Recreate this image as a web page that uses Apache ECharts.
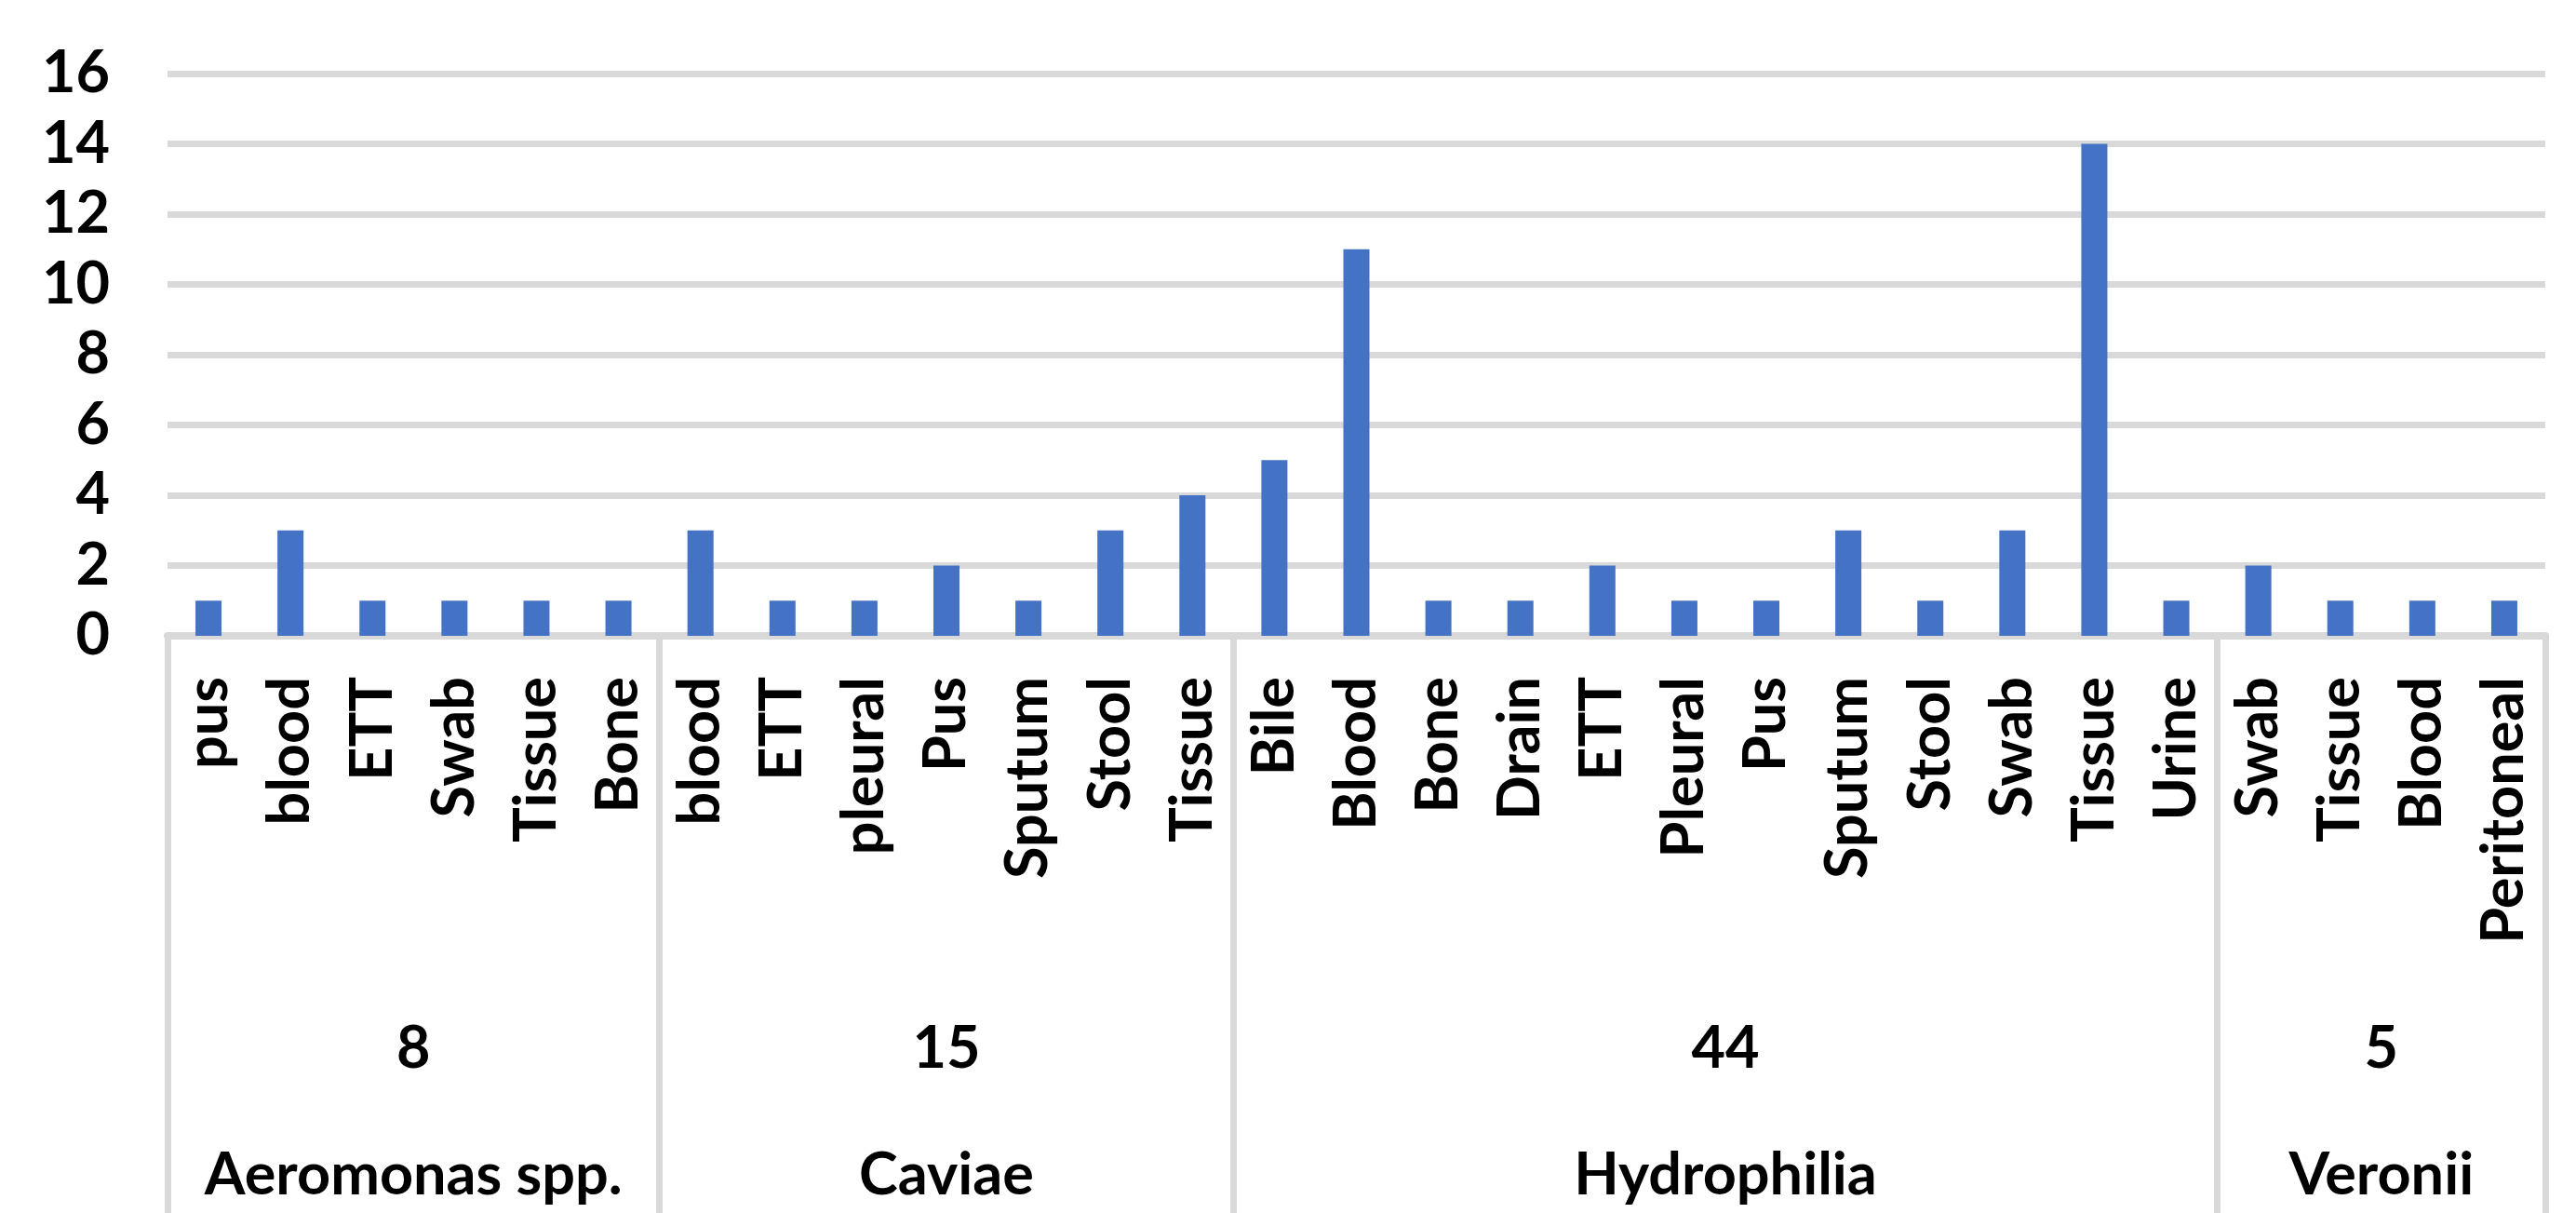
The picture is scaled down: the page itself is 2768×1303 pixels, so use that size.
<!DOCTYPE html>
<html>
<head>
<meta charset="utf-8">
<title>Specimen sources by Aeromonas species</title>
<script src="https://cdn.jsdelivr.net/npm/echarts@6/dist/echarts.min.js"></script>
<style>
  html, body { margin: 0; padding: 0; background: #ffffff; }
  #chart { width: 2768px; height: 1303px; }
</style>
</head>
<body>
<div id="chart"></div>
<script>
// Species groups, their isolate totals and how many specimen types each holds
const species = ['Aeromonas spp.', 'Caviae', 'Hydrophilia', 'Veronii'];
const speciesTotals = [8, 15, 44, 5];
const groupSizes = [6, 7, 12, 4];

// Specimen types (in group order) and isolate counts
const specimens = [
  'pus', 'blood', 'ETT', 'Swab', 'Tissue', 'Bone',
  'blood', 'ETT', 'pleural', 'Pus', 'Sputum', 'Stool', 'Tissue',
  'Bile', 'Blood', 'Bone', 'Drain', 'ETT', 'Pleural', 'Pus', 'Sputum', 'Stool', 'Swab', 'Tissue', 'Urine',
  'Swab', 'Tissue', 'Blood', 'Peritoneal'
];
const counts = [
  1, 3, 1, 1, 1, 1,
  3, 1, 1, 2, 1, 3, 4,
  5, 11, 1, 1, 2, 1, 1, 3, 1, 3, 14, 1,
  2, 1, 1, 1
];

// Value axis range
const yMin = 0, yMax = 16, yStep = 2;

// Group boundaries and centres on a 0..N scale matching the category slots
const groupEdges = [0];
groupSizes.forEach(n => groupEdges.push(groupEdges[groupEdges.length - 1] + n));
const groupCenters = groupSizes.map((n, i) => groupEdges[i] + n / 2);
const nSlots = specimens.length;

const FONT = 'Lato, "Open Sans", sans-serif';
const FS = 63;
const GRID_COLOR = '#d9d9d9';

const labelFor = (list) => (v) => {
  const i = groupCenters.findIndex(c => Math.abs(c - v) < 1e-6);
  return i >= 0 ? String(list[i]) : '';
};

const chart = echarts.init(document.getElementById('chart'), null, { renderer: 'canvas' });
chart.setOption({
  animation: false,
  backgroundColor: '#ffffff',
  grid: { left: 180, right: 33, top: 79, bottom: 620, containLabel: false },
  yAxis: {
    type: 'value',
    min: yMin, max: yMax, interval: yStep,
    axisLine: { show: false },
    axisTick: { show: false },
    axisLabel: { color: '#000', fontFamily: FONT, fontWeight: 'bold', fontSize: FS, margin: 62 },
    splitLine: { lineStyle: { color: GRID_COLOR, width: 7 } }
  },
  xAxis: [
    {
      type: 'category',
      data: specimens,
      position: 'bottom',
      axisLine: { lineStyle: { color: GRID_COLOR, width: 8 } },
      axisTick: { show: false },
      axisLabel: {
        interval: 0, rotate: 90, margin: 44,
        color: '#000', fontFamily: FONT, fontWeight: 'bold', fontSize: FS
      }
    },
    {
      type: 'value',
      min: 0, max: nSlots,
      position: 'bottom',
      axisLine: { show: false },
      splitLine: { show: false },
      axisTick: {
        show: true, inside: false, length: 620,
        customValues: groupEdges,
        lineStyle: { color: GRID_COLOR, width: 7 }
      },
      axisLabel: {
        customValues: groupCenters,
        formatter: labelFor(speciesTotals),
        margin: 412,
        color: '#000', fontFamily: FONT, fontWeight: 'bold', fontSize: FS
      }
    },
    {
      type: 'value',
      min: 0, max: nSlots,
      position: 'bottom',
      axisLine: { show: false },
      splitLine: { show: false },
      axisTick: { show: false },
      axisLabel: {
        customValues: groupCenters,
        formatter: labelFor(species),
        margin: 548,
        color: '#000', fontFamily: FONT, fontWeight: 'bold', fontSize: FS
      }
    }
  ],
  series: [{
    type: 'bar',
    xAxisIndex: 0,
    data: counts,
    barWidth: 28,
    itemStyle: { color: '#4472c4' }
  }]
});
</script>
</body>
</html>
